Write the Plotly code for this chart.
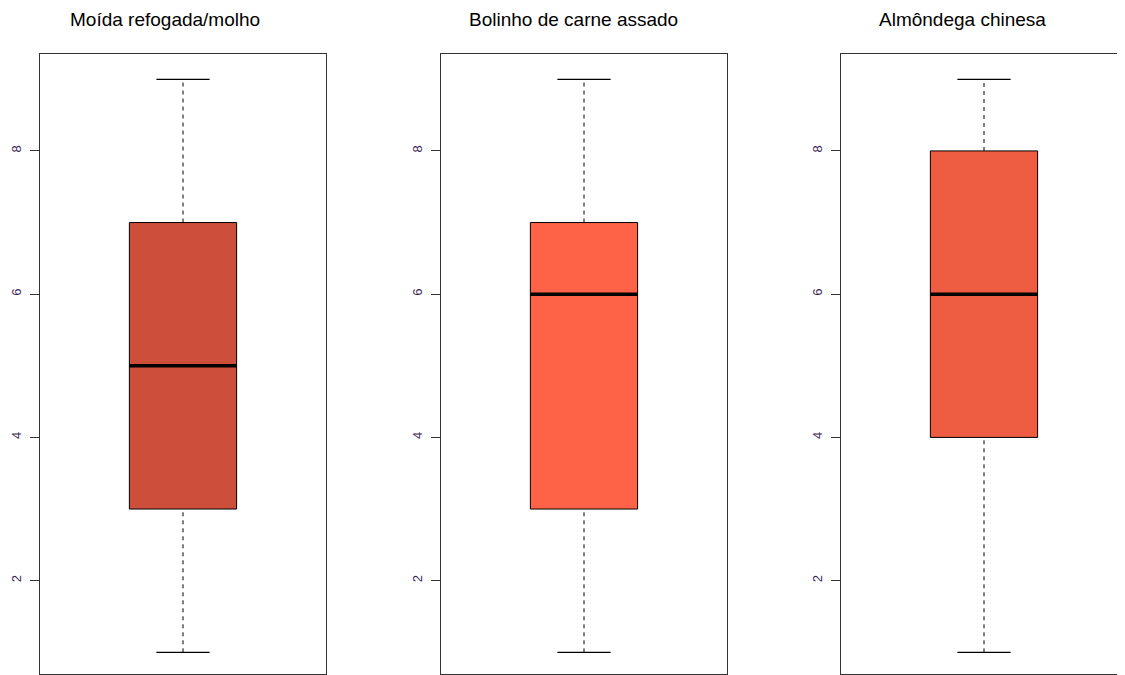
import plotly.graph_objects as go

titles = ["Moída refogada/molho", "Bolinho de carne assado", "Almôndega chinesa"]
mins = [1, 1, 1]
q1s = [3, 3, 4]
medians = [5, 6, 6]
q3s = [7, 7, 8]
maxs = [9, 9, 9]
colors = ["#CD4F39", "#FF6347", "#EE5C42"]
yticks = [2, 4, 6, 8]

OFF = 8  # browser body margin
W, H = 1125 - OFF, 675 - OFF
panel_px = [(40, 326), (441, 727), (841, 1127)]
title_px = [165, 573.5, 962]
top_px, bot_px = 54, 674
center = 0.5
box_w = 0.375
cap_half = 0.093

fig = go.Figure()
for i in range(3):
    xa = "x" if i == 0 else f"x{i+1}"
    ya = "y" if i == 0 else f"y{i+1}"
    fig.add_trace(go.Box(
        x=[center], q1=[q1s[i]], median=[medians[i]], q3=[q3s[i]],
        lowerfence=[q1s[i]], upperfence=[q3s[i]],
        width=box_w, fillcolor=colors[i],
        line=dict(color="black", width=1), whiskerwidth=0,
        xaxis=xa, yaxis=ya, showlegend=False, hoverinfo="skip"))
    for a, b in [(q3s[i], maxs[i]), (mins[i], q1s[i])]:
        fig.add_trace(go.Scatter(
            x=[center, center], y=[a, b], mode="lines",
            line=dict(color="black", width=1, dash="4px,4px"),
            xaxis=xa, yaxis=ya, showlegend=False, hoverinfo="skip"))
    for v in [maxs[i], mins[i]]:
        fig.add_trace(go.Scatter(
            x=[center - cap_half, center + cap_half], y=[v, v], mode="lines",
            line=dict(color="black", width=1.2),
            xaxis=xa, yaxis=ya, showlegend=False, hoverinfo="skip"))
    fig.add_trace(go.Scatter(
        x=[center - box_w / 2, center + box_w / 2], y=[medians[i], medians[i]],
        mode="lines", line=dict(color="black", width=3.5),
        xaxis=xa, yaxis=ya, showlegend=False, hoverinfo="skip"))

layout = dict(
    width=W, height=H, margin=dict(l=0, r=0, t=0, b=0),
    paper_bgcolor="white", plot_bgcolor="white",
    font=dict(family="Liberation Sans, Arial, sans-serif", color="black"),
)
ydom = [1 - (bot_px - OFF) / H, 1 - (top_px - OFF) / H]
for i in range(3):
    l, r = panel_px[i]
    l, r = l - OFF, r - OFF
    r_c = min(r, W)
    span = (r_c - l) / (r - l)
    xkey = "xaxis" if i == 0 else f"xaxis{i+1}"
    ykey = "yaxis" if i == 0 else f"yaxis{i+1}"
    layout[xkey] = dict(
        domain=[l / W, r_c / W], range=[0, span], showgrid=False, zeroline=False,
        showticklabels=False, ticks="", showline=True, linecolor="#333",
        linewidth=1, mirror=True, anchor="y" if i == 0 else f"y{i+1}", fixedrange=True)
    layout[ykey] = dict(
        domain=ydom, range=[0.697, 9.353], showgrid=False, zeroline=False,
        tickvals=yticks, ticktext=[str(v) for v in yticks], tickangle=-90,
        ticks="outside", ticklen=9, tickcolor="#333", tickwidth=1,
        tickfont=dict(size=13, color="#3a2a5a"), ticklabelstandoff=4,
        showline=True, linecolor="#333", linewidth=1,
        mirror=(i < 2), anchor="x" if i == 0 else f"x{i+1}", fixedrange=True)

fig.update_layout(**layout)
for i in range(3):
    fig.add_annotation(
        text=titles[i], x=(title_px[i] - OFF) / W, y=1 - (19 - OFF) / H,
        xref="paper", yref="paper",
        xanchor="center", yanchor="middle", showarrow=False,
        font=dict(size=19, color="black"))

fig.write_html("out.html")
